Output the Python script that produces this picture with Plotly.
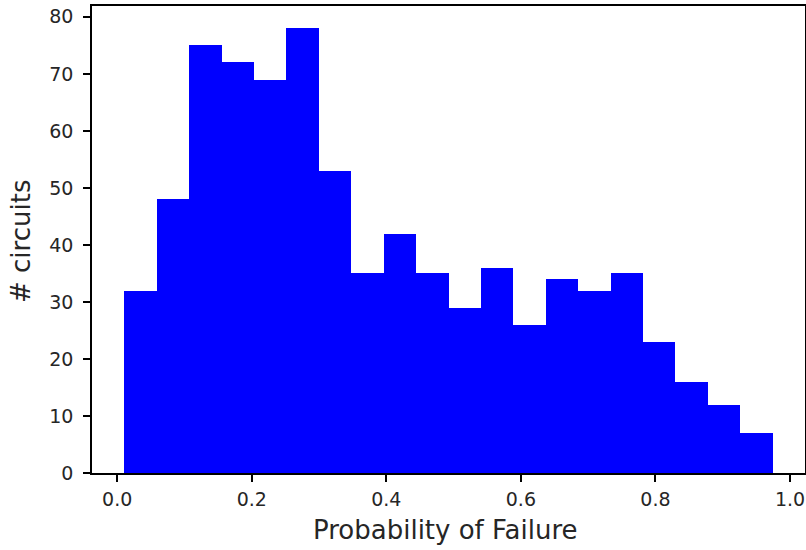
import plotly.graph_objects as go

# Histogram data
bin_edges = [0.0107, 0.0589, 0.1070, 0.1552, 0.2034, 0.2516, 0.2997, 0.3479,
             0.3961, 0.4442, 0.4924, 0.5406, 0.5887, 0.6369, 0.6851, 0.7333,
             0.7814, 0.8296, 0.8778, 0.9259, 0.9741]
counts = [32, 48, 75, 72, 69, 78, 53, 35, 42, 35, 29, 36, 26, 34, 32, 35, 23, 16, 12, 7]
x_ticks = [0.0, 0.2, 0.4, 0.6, 0.8, 1.0]
x_tick_labels = ["0.0", "0.2", "0.4", "0.6", "0.8", "1.0"]
y_ticks = [0, 10, 20, 30, 40, 50, 60, 70, 80]
x_title = "Probability of Failure"
y_title = "# circuits"

centers = [(a + b) / 2 for a, b in zip(bin_edges[:-1], bin_edges[1:])]
widths = [b - a for a, b in zip(bin_edges[:-1], bin_edges[1:])]

fig = go.Figure(go.Bar(
    x=centers, y=counts, width=widths,
    marker=dict(color="#0000ff", line=dict(width=0)),
    hoverinfo="x+y",
))

span = bin_edges[-1] - bin_edges[0]
xr = [bin_edges[0] - 0.05 * span, bin_edges[-1] + 0.05 * span]
yr = [0, max(counts) * 1.05]

font_family = "DejaVu Sans"
W, H = 806, 550
ML, MR, MT, MB = 92, 1, 6, 77
pw, ph = W - ML - MR, H - MT - MB

fig.update_layout(
    width=W, height=H,
    margin=dict(l=ML, r=MR, t=MT, b=MB),
    paper_bgcolor="white", plot_bgcolor="white",
    bargap=0, showlegend=False,
    font=dict(family=font_family, color="#000000", size=19),
    xaxis=dict(
        range=xr, tickvals=x_ticks, ticktext=x_tick_labels,
        showgrid=False, zeroline=False, automargin=False,
        showline=True, mirror=True, linecolor="#000000", linewidth=1.5,
        ticks="outside", ticklen=7, tickwidth=1.5, tickcolor="#000000",
        tickfont=dict(size=19, family=font_family, color="#262626"),
        ticklabelstandoff=1,
    ),
    yaxis=dict(
        range=yr, tickvals=y_ticks,
        showgrid=False, zeroline=False, automargin=False,
        showline=True, mirror=True, linecolor="#000000", linewidth=1.5,
        ticks="outside", ticklen=7, tickwidth=1.5, tickcolor="#000000",
        tickfont=dict(size=19, family=font_family, color="#262626"),
        ticklabelstandoff=6,
    ),
    annotations=[
        dict(text=x_title, xref="paper", yref="paper",
             x=(445.5 - ML) / pw, y=(MT + ph - 530) / ph,
             xanchor="center", yanchor="middle", showarrow=False,
             font=dict(size=26, family=font_family, color="#262626")),
        dict(text=y_title, xref="paper", yref="paper",
             x=(21 - ML) / pw, y=(MT + ph - 242) / ph, textangle=-90,
             xanchor="center", yanchor="middle", showarrow=False,
             font=dict(size=26, family=font_family, color="#262626")),
    ],
)

fig.write_html("out.html", config={"displayModeBar": False},
               post_script="document.body.style.margin='0';")
